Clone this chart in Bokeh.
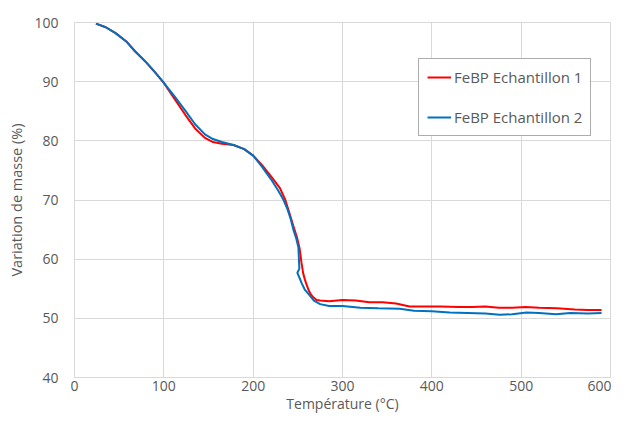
from bokeh.plotting import figure
from bokeh.models import FixedTicker, Legend, LegendItem, Range1d
from bokeh.embed import file_html
from bokeh.resources import INLINE

# ---- data ----
x_ticks = [0, 100, 200, 300, 400, 500, 600]
y_ticks = [40, 50, 60, 70, 80, 90, 100]

temp1 = [24, 35, 46, 58, 68, 80, 90, 100, 112, 124, 135, 146, 155, 165, 178, 190,
         200, 210, 220, 230, 236, 241, 245, 249, 252, 254, 256, 258, 260, 262, 264,
         267, 271, 275, 285, 300, 315, 330, 345, 360, 375, 390, 410, 430, 445, 460,
         475, 490, 505, 520, 540, 560, 575, 590]
mass1 = [99.8, 99.2, 98.2, 96.8, 95.1, 93.3, 91.6, 89.8, 87.1, 84.4, 82.1, 80.5, 79.8,
         79.5, 79.3, 78.6, 77.5, 75.9, 74.0, 72.0, 70.0, 67.6, 65.6, 63.7, 61.8, 59.5,
         57.6, 56.5, 55.6, 54.8, 54.2, 53.6, 53.1, 53.0, 52.9, 53.1, 53.0, 52.7, 52.7,
         52.5, 52.0, 52.0, 52.0, 51.9, 51.9, 52.0, 51.8, 51.8, 51.9, 51.8, 51.7, 51.5,
         51.4, 51.4]

temp2 = [24, 35, 46, 58, 68, 80, 90, 100, 112, 124, 135, 146, 155, 165, 178, 190,
         200, 210, 220, 228, 234, 238, 242, 245, 248, 250.6, 251.7, 249.5, 252, 254.4,
         258, 263.7, 268, 275, 285, 300, 320, 340, 364, 380, 400, 420, 440, 460, 476,
         490, 506, 520, 539, 555, 575, 590]
mass2 = [99.8, 99.2, 98.2, 96.8, 95.1, 93.3, 91.6, 89.8, 87.5, 85.1, 82.8, 81.1, 80.3,
         79.8, 79.3, 78.6, 77.5, 75.6, 73.5, 71.6, 70.0, 68.6, 66.8, 65.0, 63.6, 62.0,
         58.4, 57.7, 56.8, 55.9, 54.8, 53.8, 53.0, 52.4, 52.1, 52.1, 51.8, 51.7, 51.6,
         51.3, 51.2, 51.0, 50.9, 50.8, 50.6, 50.7, 51.0, 50.9, 50.7, 50.9, 50.8, 50.9]

labels = ["FeBP Echantillon 1", "FeBP Echantillon 2"]
colors = ["#FF0000", "#0070C0"]

FONT = "Open Sans"
TXT = "#595959"
GRID = "#d9d9d9"

p = figure(width=611, height=418, output_backend="svg", toolbar_location=None,
           x_range=Range1d(0, 600), y_range=Range1d(40, 100),
           min_border_left=74, min_border_right=1, min_border_top=22,
           min_border_bottom=41)

r1 = p.line(temp1, mass1, line_color=colors[0], line_width=2)
r2 = p.line(temp2, mass2, line_color=colors[1], line_width=2)

p.outline_line_color = GRID
p.background_fill_color = "white"
p.border_fill_color = "white"

for ax in (p.xaxis[0], p.yaxis[0]):
    ax.major_tick_line_color = None
    ax.minor_tick_line_color = None
    ax.major_tick_out = 0
    ax.major_tick_in = 0
    ax.minor_tick_out = 0
    ax.minor_tick_in = 0
    ax.major_label_text_font = FONT
    ax.major_label_text_font_size = "14px"
    ax.major_label_text_color = TXT
    ax.axis_label_text_font = FONT
    ax.axis_label_text_font_style = "normal"
    ax.axis_label_text_color = TXT

p.xaxis[0].axis_label_text_font_size = "14px"
p.yaxis[0].axis_label_text_font_size = "14.5px"
p.xaxis[0].ticker = FixedTicker(ticks=x_ticks)
p.yaxis[0].ticker = FixedTicker(ticks=y_ticks)
p.xaxis[0].axis_line_color = GRID
p.yaxis[0].axis_line_color = None
p.xaxis[0].axis_label = "Température (°C)"
p.yaxis[0].axis_label = "Variation de masse (%)"
p.xaxis[0].major_label_standoff = 3
p.xaxis[0].axis_label_standoff = 0
p.yaxis[0].major_label_standoff = 16
p.yaxis[0].axis_label_standoff = 5

p.xgrid.grid_line_color = GRID
p.ygrid.grid_line_color = GRID
p.xgrid.ticker = FixedTicker(ticks=x_ticks)
p.ygrid.ticker = FixedTicker(ticks=y_ticks)

legend = Legend(items=[LegendItem(label=labels[0], renderers=[r1]),
                       LegendItem(label=labels[1], renderers=[r2])],
                location=(344, 241))
legend.border_line_color = TXT
legend.border_line_width = 1
legend.background_fill_color = "white"
legend.background_fill_alpha = 1
legend.label_text_font = FONT
legend.label_text_font_size = "15px"
legend.label_text_color = TXT
legend.glyph_width = 24
legend.glyph_height = 12
legend.label_height = 12
legend.label_standoff = 3
legend.spacing = 20
legend.padding = 8
legend.margin = 0
p.add_layout(legend, "center")

open("out.html", "w").write(file_html(p, INLINE))
